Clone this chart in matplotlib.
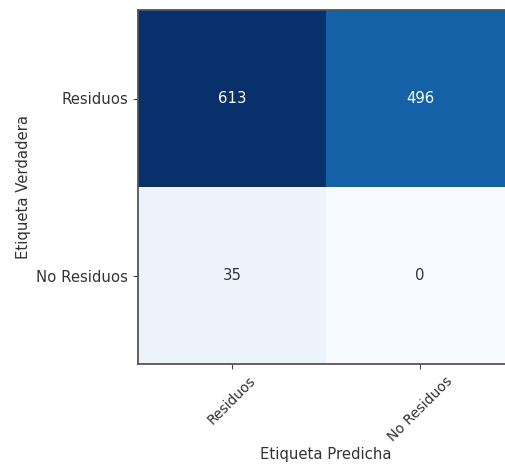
import numpy as np
from matplotlib import pyplot as plt

# Confusion matrix data
CLASSES = ['Residuos', 'No Residuos']
row_residuos = [613, 496]
row_no_residuos = [35, 0]

cm = np.array([row_residuos, row_no_residuos])

FS = 10.7
TXT = '#333333'

fig = plt.figure(figsize=(5.05, 4.66), dpi=100)
# axes runs past the right edge, like the cropped original
ax = fig.add_axes([138/505, 102/466, 376/505, 354/466])

ax.imshow(cm, interpolation='nearest', cmap=plt.cm.Blues, aspect='auto')

ticks = np.arange(len(CLASSES))
ax.set_xticks(ticks)
ax.set_xticklabels(CLASSES, rotation=45, fontsize=FS - 0.7, color=TXT)
ax.set_yticks(ticks)
ax.set_yticklabels(CLASSES, fontsize=FS, color=TXT)
ax.tick_params(color='#444444')

thresh = cm.max() / 2.
for i in range(cm.shape[0]):
    for j in range(cm.shape[1]):
        ax.text(j, i, format(cm[i, j], 'd'), ha="center", va="center",
                color="white" if cm[i, j] > thresh else TXT, fontsize=FS)

for s in ax.spines.values():
    s.set_color('#555555')
    s.set_linewidth(1.3)
ax.spines['right'].set_visible(False)

ax.set_ylabel('Etiqueta Verdadera', fontsize=FS, color=TXT, labelpad=4)
ax.set_xlabel('Etiqueta Predicha', fontsize=FS, color=TXT)
ax.xaxis.set_label_coords(0.5, -0.235)

fig.savefig('out.png', dpi=100)
